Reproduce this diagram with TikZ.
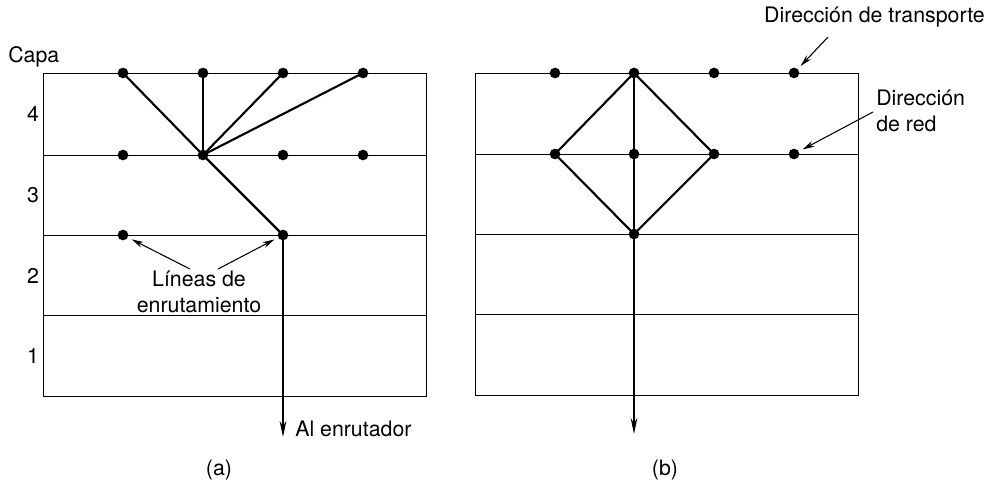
\documentclass[tikz,border=0pt]{standalone}
\usepackage{fontspec}
\setmainfont{TeX Gyre Heros}
\usetikzlibrary{arrows.meta}

\tikzset{
  punto/.style={circle,fill=black,inner sep=0pt,minimum size=8pt},
  rama/.style={line width=1.6pt},
  guia/.style={line width=0.8pt,-{Stealth[length=9pt,width=4.5pt]},shorten >=3pt},
  salida/.style={line width=1.5pt,-{Stealth[length=12pt,width=5pt]}},
  texto/.style={font=\fontsize{16}{19}\selectfont,inner sep=0pt,align=left}
}

\begin{document}
\begin{tikzpicture}[x=0.75pt,y=-0.75pt]
\useasboundingbox (0,0) rectangle (987,493);

% panel (a)
\draw[line width=0.75pt] (43,73) rectangle (426,396);
\foreach \y in {155,235,315} \draw[line width=0.75pt] (43,\y) -- (426,\y);
\node[texto,anchor=west] (capa) at (8,57) {Capa};
\node[texto] (c4) at (33,114) {4};
\node[texto] (c3) at (33,195) {3};
\node[texto] (c2) at (33,276) {2};
\node[texto] (c1) at (33,356) {1};
\foreach \n/\x in {1/123,2/203,3/283,4/363}{
  \node[punto] (a\n t) at (\x,73) {};
  \node[punto] (a\n m) at (\x,155) {};
}
\node[punto] (a1b) at (123,235) {};
\node[punto] (a3b) at (283,235) {};
\foreach \n in {1,2,3,4} \draw[rama] (a2m.center) -- (a\n t.center);
\draw[rama] (a2m.center) -- (a3b.center);
\coordinate (asal) at (283,437);
\draw[salida] (a3b.center) -- (asal);
\node[texto,anchor=west] (router) at (295,429) {Al enrutador};
\node[texto,align=center] (lineas) at (199,292) {Líneas de\\enrutamiento};
\coordinate (g1) at (190,269);
\coordinate (g2) at (218,269);
\draw[guia] (g1) -- (a1b);
\draw[guia] (g2) -- (a3b);
\node[texto] (etqa) at (219,470) {(a)};

% panel (b)
\draw[line width=0.75pt] (475,73) rectangle (858,395);
\foreach \y in {154,234,314} \draw[line width=0.75pt] (475,\y) -- (858,\y);
\foreach \n/\x in {1/555,2/634,3/714,4/794}{
  \node[punto] (b\n t) at (\x,73) {};
  \node[punto] (b\n m) at (\x,154) {};
}
\node[punto] (b2b) at (634,234) {};
\draw[rama] (b2t.center) -- (b1m.center) -- (b2b.center) -- (b3m.center) -- cycle;
\draw[rama] (b2t.center) -- (b2b.center);
\coordinate (bsal) at (634,434);
\draw[salida] (b2b.center) -- (bsal);
\node[texto,anchor=east] (transp) at (985,17) {Dirección de transporte};
\node[texto,anchor=west] (red) at (876,111) {Dirección\\de red};
\coordinate (g3) at (828,37);
\coordinate (g4) at (873,112);
\draw[guia] (g3) -- (b4t);
\draw[guia] (g4) -- (b4m);
\node[texto] (etqb) at (665,470) {(b)};
\end{tikzpicture}
\end{document}
